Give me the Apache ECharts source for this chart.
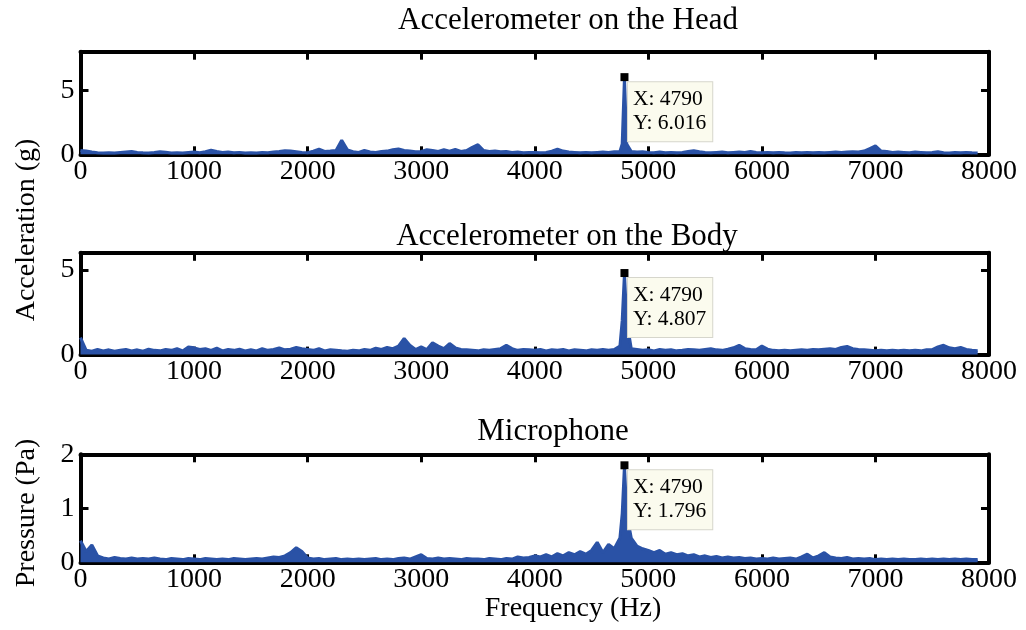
<!DOCTYPE html>
<html>
<head>
<meta charset="utf-8">
<script src="https://cdn.jsdelivr.net/npm/echarts@6/dist/echarts.min.js"></script>
<style>
  html, body { margin: 0; padding: 0; background: #fff; }
  #chart { width: 1026px; height: 630px; }
</style>
</head>
<body>
<div id="chart"></div>
<script>
// Frequency grid (Hz), rows of ten
const freq = [
  0, 50, 100, 150, 200, 250, 300, 350, 400, 450,
  500, 550, 600, 650, 700, 750, 800, 850, 900, 950,
  1000, 1050, 1100, 1150, 1200, 1250, 1300, 1350, 1400, 1450,
  1500, 1550, 1600, 1650, 1700, 1750, 1800, 1850, 1900, 1950,
  2000, 2050, 2100, 2150, 2200, 2250, 2300, 2350, 2400, 2450,
  2500, 2550, 2600, 2650, 2700, 2750, 2800, 2850, 2900, 2950,
  3000, 3050, 3100, 3150, 3200, 3250, 3300, 3350, 3400, 3450,
  3500, 3550, 3600, 3650, 3700, 3750, 3800, 3850, 3900, 3950,
  4000, 4050, 4100, 4150, 4200, 4250, 4300, 4350, 4400, 4450,
  4500, 4550, 4600, 4650, 4700, 4750, 4770, 4790, 4810, 4850,
  4900, 4950, 5000, 5050, 5100, 5150, 5200, 5250, 5300, 5350,
  5400, 5450, 5500, 5550, 5600, 5650, 5700, 5750, 5800, 5850,
  5900, 5950, 6000, 6050, 6100, 6150, 6200, 6250, 6300, 6350,
  6400, 6450, 6500, 6550, 6600, 6650, 6700, 6750, 6800, 6850,
  6900, 6950, 7000, 7050, 7100, 7150, 7200, 7250, 7300, 7350,
  7400, 7450, 7500, 7550, 7600, 7650, 7700, 7750, 7800, 7850,
  7900
];

// Acceleration spectrum, head accelerometer (g)
const headAccel = [
  0.30, 0.25, 0.18, 0.12, 0.10, 0.12, 0.10, 0.14, 0.18, 0.22,
  0.15, 0.12, 0.10, 0.14, 0.20, 0.16, 0.10, 0.12, 0.10, 0.14,
  0.18, 0.12, 0.20, 0.32, 0.22, 0.15, 0.18, 0.12, 0.15, 0.10,
  0.12, 0.10, 0.14, 0.12, 0.18, 0.22, 0.28, 0.25, 0.20, 0.15,
  0.12, 0.25, 0.40, 0.22, 0.25, 0.30, 1.10, 0.35, 0.20, 0.15,
  0.30, 0.18, 0.15, 0.22, 0.25, 0.35, 0.42, 0.30, 0.25, 0.20,
  0.22, 0.35, 0.30, 0.22, 0.35, 0.25, 0.38, 0.22, 0.30, 0.55,
  0.75, 0.30, 0.22, 0.25, 0.20, 0.22, 0.15, 0.18, 0.12, 0.15,
  0.15, 0.12, 0.15, 0.25, 0.40, 0.25, 0.18, 0.15, 0.12, 0.15,
  0.12, 0.15, 0.18, 0.15, 0.20, 0.22, 0.80, 6.016, 0.80, 0.22,
  0.18, 0.20, 0.15, 0.12, 0.18, 0.12, 0.15, 0.12, 0.15, 0.22,
  0.28, 0.20, 0.15, 0.12, 0.15, 0.18, 0.12, 0.15, 0.18, 0.15,
  0.22, 0.15, 0.12, 0.15, 0.12, 0.15, 0.12, 0.10, 0.14, 0.12,
  0.15, 0.12, 0.14, 0.12, 0.15, 0.18, 0.15, 0.18, 0.20, 0.18,
  0.25, 0.45, 0.65, 0.25, 0.22, 0.15, 0.18, 0.15, 0.12, 0.18,
  0.15, 0.12, 0.15, 0.20, 0.12, 0.10, 0.14, 0.12, 0.15, 0.12,
  0.10
];

// Acceleration spectrum, body accelerometer (g)
const bodyAccel = [
  1.00, 0.25, 0.20, 0.30, 0.22, 0.28, 0.20, 0.25, 0.30, 0.22,
  0.28, 0.20, 0.32, 0.25, 0.22, 0.30, 0.25, 0.35, 0.22, 0.45,
  0.40, 0.30, 0.35, 0.25, 0.38, 0.22, 0.30, 0.25, 0.32, 0.22,
  0.28, 0.22, 0.35, 0.25, 0.30, 0.40, 0.28, 0.32, 0.42, 0.35,
  0.30, 0.25, 0.35, 0.22, 0.28, 0.25, 0.22, 0.20, 0.25, 0.22,
  0.30, 0.25, 0.38, 0.30, 0.42, 0.35, 0.50, 0.95, 0.55, 0.30,
  0.45, 0.30, 0.70, 0.50, 0.35, 0.65, 0.40, 0.30, 0.28, 0.25,
  0.22, 0.28, 0.25, 0.30, 0.35, 0.55, 0.35, 0.25, 0.30, 0.28,
  0.25, 0.30, 0.22, 0.28, 0.25, 0.30, 0.22, 0.28, 0.25, 0.22,
  0.28, 0.25, 0.30, 0.25, 0.30, 0.50, 2.00, 4.807, 2.00, 0.35,
  0.30, 0.25, 0.28, 0.22, 0.30, 0.25, 0.28, 0.22, 0.25, 0.30,
  0.28, 0.25, 0.30, 0.35, 0.28, 0.25, 0.32, 0.40, 0.55, 0.35,
  0.30, 0.28, 0.50, 0.32, 0.25, 0.22, 0.25, 0.22, 0.25, 0.28,
  0.25, 0.30, 0.28, 0.32, 0.35, 0.30, 0.42, 0.48, 0.35, 0.30,
  0.28, 0.25, 0.22, 0.25, 0.22, 0.25, 0.22, 0.25, 0.22, 0.25,
  0.22, 0.28, 0.30, 0.45, 0.55, 0.40, 0.35, 0.42, 0.30, 0.25,
  0.22
];

// Sound pressure spectrum, microphone (Pa)
const micPressure = [
  0.40, 0.20, 0.32, 0.12, 0.08, 0.06, 0.09, 0.07, 0.06, 0.08,
  0.06, 0.07, 0.06, 0.08, 0.06, 0.05, 0.07, 0.06, 0.05, 0.07,
  0.06, 0.05, 0.07, 0.06, 0.05, 0.06, 0.05, 0.07, 0.06, 0.05,
  0.06, 0.07, 0.06, 0.08, 0.10, 0.09, 0.12, 0.18, 0.27, 0.20,
  0.08, 0.06, 0.07, 0.05, 0.06, 0.07, 0.05, 0.06, 0.05, 0.06,
  0.05, 0.06, 0.07, 0.05, 0.06, 0.05, 0.07, 0.08, 0.06, 0.10,
  0.14, 0.07, 0.06, 0.08, 0.06, 0.07, 0.06, 0.05, 0.07, 0.06,
  0.06, 0.05, 0.07, 0.06, 0.05, 0.07, 0.06, 0.10, 0.08, 0.09,
  0.12, 0.10, 0.14, 0.10, 0.16, 0.12, 0.18, 0.14, 0.20, 0.15,
  0.22, 0.37, 0.18, 0.33, 0.25, 0.45, 0.90, 1.796, 0.90, 0.45,
  0.30, 0.25, 0.22, 0.18, 0.22, 0.15, 0.18, 0.14, 0.16, 0.12,
  0.14, 0.10, 0.12, 0.09, 0.11, 0.08, 0.10, 0.08, 0.09, 0.07,
  0.08, 0.06, 0.07, 0.06, 0.08, 0.06, 0.07, 0.08, 0.06, 0.10,
  0.15, 0.08, 0.12, 0.18, 0.10, 0.08, 0.07, 0.09, 0.06, 0.07,
  0.06, 0.07, 0.05, 0.06, 0.05, 0.06, 0.05, 0.06, 0.05, 0.05,
  0.06, 0.05, 0.06, 0.05, 0.06, 0.05, 0.06, 0.05, 0.06, 0.05,
  0.05
];

// Data-tip frequency (Hz)
const tipFreq = 4790;

// Panel titles and axis tick steps
const panelTitles = ['Accelerometer on the Head', 'Accelerometer on the Body', 'Microphone'];
const xTickStep = 1000;
const yTickSteps = [5, 5, 1];
const yMaxima = [8, 6, 2];

const SERIF = '"Liberation Serif", "Times New Roman", serif';
const BLUE = '#2a52a6';

const panels = [
  { values: headAccel, top: 51.7, height: 102.6 },
  { values: bodyAccel, top: 252.8, height: 101.8 },
  { values: micPressure, top: 454.3, height: 108 }
];

const gridLeft = 80.5;
const gridWidth = 908.5;

// fresh style objects for every axis
function axisLine() {
  return { show: true, onZero: false, lineStyle: { color: '#000', width: 4 } };
}
function axisTick() {
  // a gapless dash keeps each tick stroked on its own
  return { show: true, inside: true, length: 8, lineStyle: { color: '#000', width: 3, type: [20, 0] } };
}
function tickLabel(margin, step, top) {
  return {
    show: true, margin: margin,
    // the top end only carries a label when it falls on a whole step
    formatter: v => (v === top && top % step !== 0) ? '' : String(v),
    fontFamily: SERIF, fontSize: 28, color: '#000'
  };
}

const grids = [], xAxes = [], yAxes = [], series = [];

panels.forEach((p, i) => {
  const yMax = yMaxima[i];
  const yStep = yTickSteps[i];
  grids.push({ left: gridLeft, top: p.top, width: gridWidth, height: p.height });

  ['bottom', 'top'].forEach(pos => {
    xAxes.push({
      gridIndex: i, type: 'value', min: 0, max: 8000, interval: xTickStep,
      position: pos,
      axisLine: axisLine(),
      axisTick: axisTick(),
      splitLine: { show: false },
      axisLabel: pos === 'bottom' ? tickLabel(3, xTickStep, 8000) : { show: false }
    });
  });

  ['left', 'right'].forEach(pos => {
    yAxes.push({
      gridIndex: i, type: 'value', min: 0, max: yMax, interval: yStep,
      position: pos,
      axisLine: axisLine(),
      axisTick: axisTick(),
      splitLine: { show: false },
      axisLabel: pos === 'left' ? tickLabel(6, yStep, yMax) : { show: false }
    });
  });

  const pairs = freq.map((f, k) => [f, p.values[k]]);
  const tipValue = p.values[freq.indexOf(tipFreq)];

  series.push({
    type: 'line',
    xAxisIndex: i * 2,
    yAxisIndex: i * 2,
    data: pairs,
    showSymbol: false,
    lineStyle: { color: BLUE, width: 3 },
    areaStyle: { color: BLUE, opacity: 1 },
    silent: true,
    markPoint: {
      symbol: 'rect',
      symbolSize: 8,
      itemStyle: { color: '#000' },
      data: [{ coord: [tipFreq, tipValue], value: tipValue }],
      label: {
        show: true,
        position: [7.5, 9],
        formatter: 'X: ' + tipFreq + '\nY: ' + tipValue.toFixed(3),
        fontFamily: SERIF,
        fontSize: 21.5,
        lineHeight: 24,
        color: '#000',
        backgroundColor: '#fbfbee',
        borderColor: '#d6d6cc',
        borderWidth: 1,
        padding: [5, 6, 6, 5]
      }
    }
  });
});

function textEl(text, x, y, size, rotation) {
  return {
    type: 'text', x: x, y: y, rotation: rotation || 0, silent: true,
    style: {
      text: text, fill: '#000',
      font: size + 'px ' + SERIF,
      textAlign: 'center', textVerticalAlign: 'middle'
    }
  };
}

const chart = echarts.init(document.getElementById('chart'));
chart.setOption({
  animation: false,
  backgroundColor: '#fff',
  grid: grids,
  xAxis: xAxes,
  yAxis: yAxes,
  series: series,
  graphic: [
    textEl(panelTitles[0], 568, 21, 31),
    textEl(panelTitles[1], 567, 237, 31),
    textEl(panelTitles[2], 553, 432, 31),
    textEl('Acceleration (g)', 27, 230, 28, Math.PI / 2),
    textEl('Pressure (Pa)', 27, 513, 28, Math.PI / 2),
    textEl('Frequency (Hz)', 573, 609, 28)
  ]
});
</script>
</body>
</html>
